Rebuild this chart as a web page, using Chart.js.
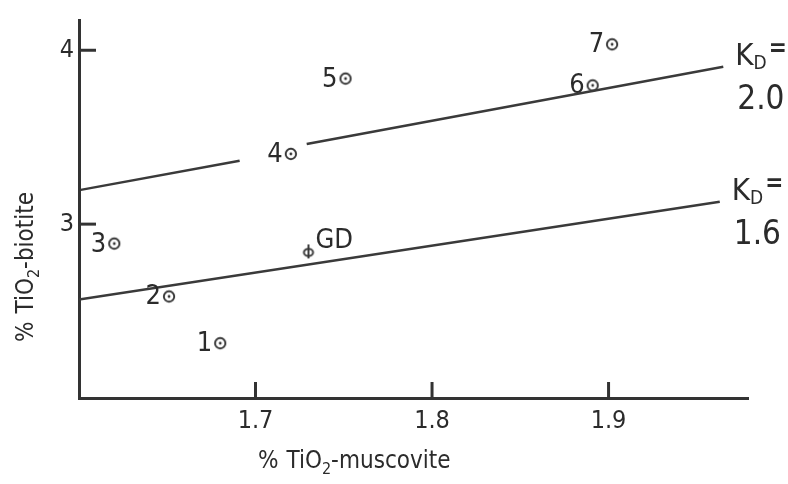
<!DOCTYPE html>
<html>
<head>
<meta charset="utf-8">
<script src="https://cdn.jsdelivr.net/npm/chart.js@4.4.0/dist/chart.umd.min.js"></script>
<style>
  html, body { margin: 0; padding: 0; background: #fff; }
</style>
</head>
<body>
<canvas id="myChart" width="788" height="484"></canvas>
<script>
// Données
const sampleLabels = ['1', '2', '3', '4', '5', '6', '7'];
const muscovite = [1.680, 1.651, 1.620, 1.720, 1.751, 1.891, 1.902];
const biotite = [2.315, 2.584, 2.888, 3.404, 3.837, 3.798, 4.034];
const gdPoint = [1.730, 2.843];
const kd20Left = [[1.601, 3.197], [1.691, 3.365]];
const kd20Right = [[1.729, 3.461], [1.965, 3.905]];
const kd16Line = [[1.600, 2.567], [1.963, 3.129]];
const kdValues = ['2.0', '1.6'];
const xTicks = [1.7, 1.8, 1.9];
const yTicks = [3, 4];

const INK = '#333';
const NARROW = "'Liberation Sans Narrow', 'DejaVu Sans Condensed', sans-serif";
const TITLE = "'DejaVu Sans Condensed', 'Liberation Sans Narrow', sans-serif";

// Symbole cercle pointé
function makeRing() {
  const c = document.createElement('canvas');
  c.width = 16; c.height = 16;
  const g = c.getContext('2d');
  g.strokeStyle = INK; g.lineWidth = 1.9;
  g.beginPath(); g.arc(8, 8, 5.2, 0, Math.PI * 2);
  g.fillStyle = '#fff'; g.fill(); g.stroke();
  g.beginPath(); g.arc(8, 8, 1.4, 0, Math.PI * 2);
  g.fillStyle = INK; g.fill();
  return c;
}

// Symbole GD (cercle barré verticalement)
function makeGD() {
  const c = document.createElement('canvas');
  c.width = 14; c.height = 16;
  const g = c.getContext('2d');
  g.strokeStyle = INK; g.lineWidth = 1.9;
  g.beginPath(); g.ellipse(7, 9, 4.6, 3.6, 0, 0, Math.PI * 2); g.stroke();
  g.beginPath(); g.moveTo(7, 1); g.lineTo(7, 15); g.stroke();
  return c;
}

const toXY = arr => arr.map(p => ({ x: p[0], y: p[1] }));

function lineSet(pts) {
  return {
    type: 'scatter',
    data: toXY(pts),
    showLine: true,
    borderColor: '#3a3a3a',
    borderWidth: 2.5,
    pointRadius: 0,
    fill: false
  };
}

// Texte avec indice (TiO2, KD)
function drawRuns(g, runs, x, y) {
  runs.forEach(r => {
    g.font = r.font;
    g.fillText(r.text, x, y + (r.dy || 0));
    x += g.measureText(r.text).width + (r.gap || 0);
  });
}

const annotate = {
  id: 'annotate',
  afterDatasetsDraw(chart) {
    const g = chart.ctx;
    const { x, y } = chart.scales;
    const area = chart.chartArea;
    g.save();
    g.fillStyle = '#2b2b2b';
    g.strokeStyle = INK;

    // graduations vers l'intérieur
    g.lineWidth = 3;
    xTicks.forEach(v => {
      const px = x.getPixelForValue(v);
      g.beginPath(); g.moveTo(px, area.bottom); g.lineTo(px, area.bottom - 16); g.stroke();
    });
    yTicks.forEach(v => {
      const py = y.getPixelForValue(v);
      g.beginPath(); g.moveTo(area.left, py); g.lineTo(area.left + 17, py); g.stroke();
    });

    // numéros des échantillons
    const meta = chart.getDatasetMeta(3);
    g.font = '27px ' + NARROW;
    g.textAlign = 'right';
    g.textBaseline = 'middle';
    meta.data.forEach((pt, i) => {
      g.fillText(sampleLabels[i], pt.x - 8, pt.y + 1);
    });

    // GD
    const gd = chart.getDatasetMeta(4).data[0];
    g.textAlign = 'left';
    g.textBaseline = 'alphabetic';
    g.fillText('GD', gd.x + 7, gd.y - 3);

    // étiquettes KD
    [kd20Right, kd16Line].forEach((pts, i) => {
      const last = pts[pts.length - 1];
      const ex = x.getPixelForValue(last[0]);
      const ey = y.getPixelForValue(last[1]);
      drawRuns(g, [
        { text: 'K', font: '31px ' + NARROW },
        { text: 'D', font: '19px ' + NARROW, dy: 4, gap: 2 },
        { text: '=', font: 'bold 24px ' + NARROW, dy: -9 }
      ], ex + 12, ey - 2);
      g.font = '33px ' + NARROW;
      g.fillText(kdValues[i], ex + 14, ey + 42);
    });

    // titres des axes
    const big = '24px ' + TITLE;
    const sub = '16px ' + TITLE;
    drawRuns(g, [
      { text: '%', font: big, gap: 8 },
      { text: 'TiO', font: big },
      { text: '2', font: sub, dy: 6 },
      { text: '-muscovite', font: big }
    ], 258, 468);

    g.translate(33, 342);
    g.rotate(-Math.PI / 2);
    drawRuns(g, [
      { text: '%', font: big, gap: 8 },
      { text: 'TiO', font: big },
      { text: '2', font: sub, dy: 6 },
      { text: '-biotite', font: big }
    ], 0, 0);
    g.restore();
  }
};

const myChart = new Chart(document.getElementById('myChart').getContext('2d'), {
  type: 'scatter',
  data: {
    datasets: [
      lineSet(kd20Left),
      lineSet(kd20Right),
      lineSet(kd16Line),
      {
        data: muscovite.map((m, i) => ({ x: m, y: biotite[i] })),
        pointStyle: makeRing(),
        pointRadius: 8
      },
      {
        data: [{ x: gdPoint[0], y: gdPoint[1] }],
        pointStyle: makeGD(),
        pointRadius: 7
      }
    ]
  },
  options: {
    responsive: false,
    animation: false,
    events: [],
    layout: { padding: { top: 11, right: 40, left: 0, bottom: 0 } },
    plugins: { legend: { display: false }, tooltip: { enabled: false } },
    scales: {
      x: {
        type: 'linear',
        min: 1.6,
        max: 1.979,
        afterFit: s => { s.height = 86; },
        afterBuildTicks: s => { s.ticks = xTicks.map(v => ({ value: v })); },
        grid: { display: false, drawTicks: false },
        border: { display: true, color: INK, width: 3 },
        ticks: {
          padding: 8,
          color: '#2b2b2b',
          font: { family: NARROW, size: 25 },
          callback: v => v.toFixed(1)
        }
      },
      y: {
        type: 'linear',
        min: 2.0,
        max: 4.174,
        afterFit: s => { s.width = 79; },
        afterBuildTicks: s => { s.ticks = yTicks.map(v => ({ value: v })); },
        grid: { display: false, drawTicks: false },
        border: { display: true, color: INK, width: 3 },
        ticks: {
          padding: 5,
          color: '#2b2b2b',
          font: { family: NARROW, size: 25 },
          callback: v => String(v)
        }
      }
    }
  },
  plugins: [annotate]
});
</script>
</body>
</html>
